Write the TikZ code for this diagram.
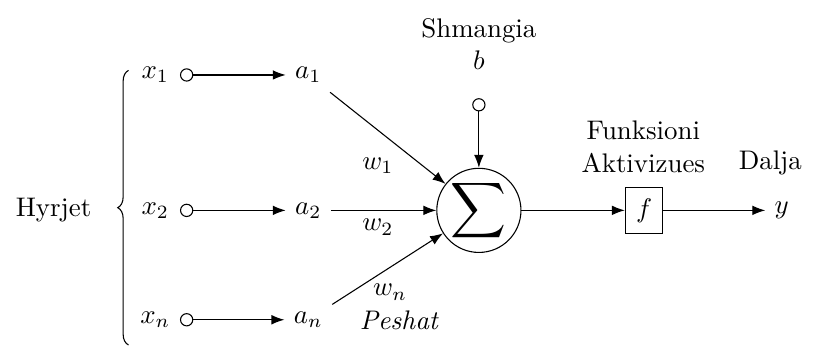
\documentclass[tikz,border=0pt]{standalone}
\usepackage{amsmath,amssymb}
\usetikzlibrary{arrows.meta,decorations.pathreplacing}

\begin{document}
\begin{tikzpicture}[
	scale=1, % Scale of the neuron
	% Style for the small hollow input points
	input point/.style={
		circle,
		draw,
		fill=white,
		minimum size=1.6mm,
		inner sep=0pt
	},
	% Style for the summing junction
	sum node/.style={
		circle,
		draw,
		minimum size=11mm,
		inner sep=0pt
	},
	% Style for the activation box
	act node/.style={
		rectangle,
		draw,
		inner sep=4pt
	},
	% Style for the arrows
	signal/.style={
		-Latex,
		thin
	}
	]
	\useasboundingbox (0,0) rectangle (10.706,-4.51);
	
	% 1. Inputs and the brace
	\node (inputs) at (0.70,-2.75) {Hyrjet};
	\coordinate (brace top) at (1.68,-0.92);
	\coordinate (brace bot) at (1.68,-4.51);
	\draw[decorate, decoration={brace, amplitude=4pt}] (brace bot) -- (brace top);
	
	\node (x1) at (2.03,-0.98) {$x_1$};
	\node (x2) at (2.03,-2.75) {$x_2$};
	\node (xn) at (2.03,-4.18) {$x_n$};
	
	\node[input point] (p1) at (2.44,-0.98) {};
	\node[input point] (p2) at (2.44,-2.75) {};
	\node[input point] (pn) at (2.44,-4.18) {};
	
	\node (a1) at (4.03,-0.98) {$a_1$};
	\node (a2) at (4.03,-2.75) {$a_2$};
	\node (an) at (4.03,-4.18) {$a_n$};
	
	% 2. Summing junction and bias
	\node[sum node] (sum) at (6.26,-2.75) {\Large$\displaystyle\sum$};
	\node[input point] (pb) at (6.26,-1.37) {};
	\node[align=center] (bias) at (6.26,-0.58) {Shmangia\\$b$};
	
	% 3. Activation and output
	\node[act node] (f) at (8.42,-2.75) {$f$};
	\node[align=center] (act) at (8.41,-1.92) {Funksioni\\Aktivizues};
	\node (y) at (10.22,-2.75) {$y$};
	\node (out) at (10.07,-2.13) {Dalja};
	
	% 4. Weights
	\node (w1) at (4.94,-2.16) {$w_1$};
	\node (w2) at (4.94,-2.97) {$w_2$};
	\node (wn) at (5.10,-3.82) {$w_n$};
	\node (weights) at (5.23,-4.19) {$\mathit{Peshat}$};
	
	% 5. Draw the connections
	\draw[signal] (p1) -- (a1);
	\draw[signal] (p2) -- (a2);
	\draw[signal] (pn) -- (an);
	
	\draw[signal] (a1) -- (sum);
	\draw[signal] (a2) -- (sum);
	\draw[signal] (an) -- (sum);
	
	\draw[signal] (pb) -- (sum);
	\draw[signal] (sum) -- (f);
	\draw[signal] (f) -- (y);
	
\end{tikzpicture}
\end{document}
